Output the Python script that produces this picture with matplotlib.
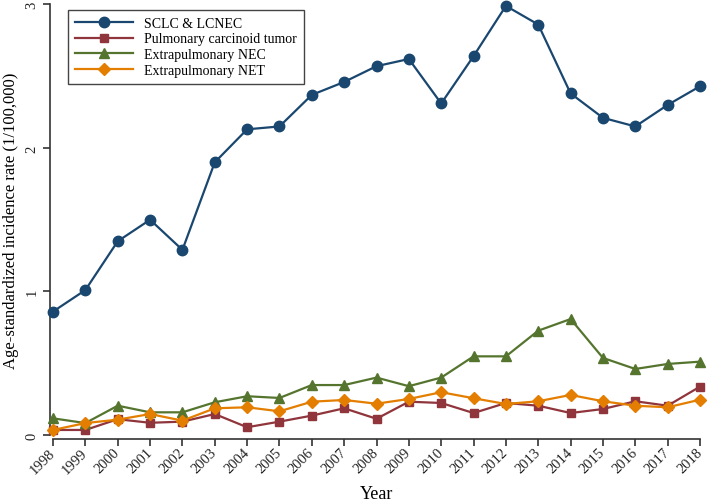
import matplotlib.pyplot as plt

# Data
years = list(range(1998, 2019))
sclc_lcnec = [0.86, 1.01, 1.35, 1.50, 1.29, 1.90, 2.13, 2.15, 2.37, 2.46, 2.57,
              2.62, 2.31, 2.64, 2.99, 2.86, 2.38, 2.21, 2.15, 2.30, 2.43]
pulm_carcinoid = [0.035, 0.035, 0.11, 0.085, 0.093, 0.146, 0.054, 0.093, 0.135, 0.186, 0.113,
                  0.232, 0.223, 0.153, 0.223, 0.204, 0.153, 0.181, 0.235, 0.204, 0.337]
extra_nec = [0.116, 0.083, 0.204, 0.158, 0.158, 0.228, 0.27, 0.258, 0.348, 0.348, 0.40,
             0.34, 0.40, 0.548, 0.548, 0.727, 0.808, 0.537, 0.46, 0.495, 0.511]
extra_net = [0.035, 0.083, 0.107, 0.146, 0.10, 0.186, 0.193, 0.165, 0.232, 0.244, 0.218,
             0.251, 0.298, 0.256, 0.216, 0.235, 0.279, 0.235, 0.204, 0.193, 0.246]

plt.rcParams['font.family'] = ['Liberation Serif', 'DejaVu Serif']

fig = plt.figure(figsize=(7.08, 5.02), dpi=100)
ax = fig.add_axes([0.0749, 0.1315, 0.9138, 0.8576])

ax.plot(years, sclc_lcnec, color='#1a476f', marker='o', markersize=7.5, linewidth=1.6,
        label='SCLC & LCNEC', clip_on=False, zorder=5)
ax.plot(years, pulm_carcinoid, color='#90353b', marker='s', markersize=5.5, linewidth=1.6,
        label='Pulmonary carcinoid tumor', clip_on=False, zorder=3)
ax.plot(years, extra_nec, color='#55752f', marker='^', markersize=6.5, linewidth=1.6,
        label='Extrapulmonary NEC', clip_on=False, zorder=3)
ax.plot(years, extra_net, color='#e37e00', marker='D', markersize=6, linewidth=1.6,
        label='Extrapulmonary NET', clip_on=False, zorder=4)

ax.set_xlim(1998, 2018)
ax.set_ylim(0, 3)
ax.set_xticks(years)
ax.set_yticks([0, 1, 2, 3])

ax.spines['top'].set_visible(False)
ax.spines['right'].set_visible(False)
ax.spines['left'].set_position(('outward', 2))
ax.spines['bottom'].set_position(('outward', 3))
for s in ('left', 'bottom'):
    ax.spines[s].set_color('#333333')
    ax.spines[s].set_linewidth(1.2)
ax.tick_params(axis='both', length=5, width=1.2, color='#333333', labelcolor='#222222',
               labelsize=10.5)
ax.tick_params(axis='x', labelrotation=45, pad=3)
ax.tick_params(axis='y', labelrotation=90)
for lab in ax.get_xticklabels():
    lab.set_ha('right')
    lab.set_va('center')
    lab.set_rotation_mode('anchor')
for lab in ax.get_yticklabels():
    lab.set_va('center')

ax.set_xlabel('Year', fontsize=13, labelpad=7)
ax.set_ylabel('Age-standardized incidence rate (1/100,000)', fontsize=12, labelpad=5)

leg = ax.legend(loc='upper left', bbox_to_anchor=(0.012, 1.004), fontsize=10,
                handlelength=4.2, labelspacing=0.2, borderpad=0.5, fancybox=False,
                framealpha=1, edgecolor='#444444')
leg.get_frame().set_linewidth(1.0)

fig.savefig('out.png', dpi=100)
